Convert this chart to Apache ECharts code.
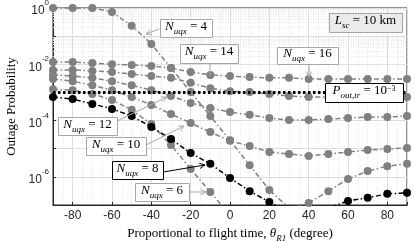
<!DOCTYPE html>
<html><head><meta charset="utf-8">
<script src="https://cdn.jsdelivr.net/npm/echarts@6/dist/echarts.min.js"></script>
<style>html,body{margin:0;padding:0;background:#fff}#c{width:415px;height:242px}</style>
</head><body><div id="c"></div>
<script>
const angles=[-90,-80,-70,-60,-50,-40,-30,-20,-10,0,10,20,30,40,50,60,70,80,90];
const pN4=[1,1,1,0.72,0.235,5.3e-2,7.4e-3,1.03e-3,1.45e-4,2.0e-5,2.6e-6,3.4e-7,7.8e-8,1.18e-7,3.1e-7,8.4e-7,1.6e-6,2.4e-6,2.9e-6];
const pN6=[1.3e-3,1.2e-3,8.8e-4,5.4e-4,2.4e-4,7.5e-5,1.35e-5,1.9e-6,2.9e-7,4.4e-8,null,null,null,null,null,null,null,null,null];
const pN8=[6.9e-4,5.8e-4,3.9e-4,2.6e-4,1.45e-4,5.9e-5,2.2e-5,7.0e-6,2.9e-6,9.1e-7,3.1e-7,1.28e-7,5.6e-8,4e-8,7.8e-8,1.4e-7,1.8e-7,2.5e-7,2.7e-7];
const pN10=[3.0e-3,2.5e-3,1.8e-3,1.2e-3,6.9e-4,3.6e-4,1.7e-4,8.2e-5,3.9e-5,1.9e-5,1.25e-5,7.6e-6,6.5e-6,5.5e-6,6.5e-6,7.6e-6,9.0e-6,9.8e-6,1.06e-5];
const pN12=[4.2e-3,3.8e-3,3.3e-3,2.5e-3,1.8e-3,1.2e-3,7.5e-4,4.2e-4,2.8e-4,2.0e-4,1.6e-4,1.23e-4,1.05e-4,1.05e-4,1.14e-4,1.23e-4,1.34e-4,1.34e-4,1.45e-4];
const pN14=[6.3e-3,6.3e-3,5.8e-3,5.3e-3,4.5e-3,3.8e-3,3.3e-3,2.2e-3,1.4e-3,1.1e-3,1.03e-3,8.8e-4,7.5e-4,6.9e-4,6.9e-4,6.9e-4,6.9e-4,6.9e-4,6.9e-4];
const pN16=[1.2e-2,1.2e-2,1.1e-2,1.0e-2,9.4e-3,8.7e-3,7.4e-3,5.3e-3,4.2e-3,3.8e-3,3.5e-3,3.3e-3,3.3e-3,3.0e-3,3.0e-3,3.0e-3,3.0e-3,3.0e-3,3.0e-3];
const thresholdX=[-90,90];
const thresholdP=1e-3;
const seriesNames=['N_uqx = 4','N_uqx = 6','N_uqx = 8','N_uqx = 10','N_uqx = 12','N_uqx = 14','N_uqx = 16'];

const SERIF='"Liberation Serif","DejaVu Serif",serif';
const SANS='"Liberation Sans","DejaVu Sans",sans-serif';
const GREY='#808080';
const dashDot=[5,2.5,1.5,2.5];

function pairs(arr){return angles.map((a,i)=>[a,arr[i]]);}
function lineSeries(name,arr,color,z){
  return {name,type:'line',data:pairs(arr),symbol:'circle',symbolSize:8,
    itemStyle:{color},lineStyle:{color,width:1.5,type:dashDot},z:z||10,
    clip:true,animation:false,connectNulls:false};
}
// minor log grid lines (2..9 per decade)
const minorY=[];
for(let e=-7;e<0;e++){for(let k=2;k<=9;k++){minorY.push({yAxis:k*Math.pow(10,e)});}}

const chart=echarts.init(document.getElementById('c'),null,{renderer:'canvas'});
const option={
  animation:false,
  backgroundColor:'#fff',
  grid:{left:53,right:8,top:8,bottom:37,outerBoundsMode:'none',containLabel:false,
    show:true,borderColor:'#262626',borderWidth:1,backgroundColor:'#fff'},
  xAxis:{type:'value',min:-90,max:90,splitNumber:9,
    axisLine:{show:true,onZero:false,lineStyle:{color:'#262626'}},
    axisTick:{show:true,inside:true,length:3,lineStyle:{color:'#262626'}},
    minorTick:{show:false,splitNumber:4},
    minorSplitLine:{show:true,lineStyle:{color:'#e4e4e4',type:[1,1.5],width:1}},
    splitLine:{show:true,lineStyle:{color:'#dcdcdc',width:1}},
    axisLabel:{fontFamily:SANS,fontSize:12,color:'#262626',margin:5,
      formatter:v=>(v===-90||v===90)?'':String(v)},
    name:'{t|Proportional to flight time, }{i|θ}{s|R1}{t| (degree)}',
    nameLocation:'middle',nameGap:19,
    nameTextStyle:{rich:{
      t:{fontFamily:SERIF,fontSize:13,color:'#000',lineHeight:16,verticalAlign:'top'},
      i:{fontFamily:SERIF,fontSize:13,fontStyle:'italic',color:'#000',lineHeight:16,verticalAlign:'top'},
      s:{fontFamily:SERIF,fontSize:9,fontStyle:'italic',color:'#000',lineHeight:9,verticalAlign:'bottom'}}}
  },
  yAxis:{type:'log',logBase:10,min:1e-7,max:1,splitNumber:7,
    axisLine:{show:true,onZero:false,lineStyle:{color:'#262626'}},
    axisTick:{show:true,inside:true,length:3,lineStyle:{color:'#262626'}},
    splitLine:{show:true,lineStyle:{color:'#dcdcdc',width:1}},
    axisLabel:{margin:4,formatter:v=>{const e=Math.round(Math.log10(v));return (e%2===0)?'{b|10}{s|'+(e===0?'0':e)+'}':'';},
      rich:{b:{fontFamily:SANS,fontSize:12,color:'#262626',lineHeight:18,verticalAlign:'bottom'},
            s:{fontFamily:SANS,fontSize:8,color:'#262626',lineHeight:10,verticalAlign:'top'}}},
    name:'Outage Probability',nameLocation:'middle',nameGap:34,
    nameTextStyle:{fontFamily:SERIF,fontSize:13,color:'#000'}
  },
  series:[
    {type:'line',data:[],silent:true,z:1,markLine:{silent:true,z:1,symbol:'none',label:{show:false},animation:false,
      lineStyle:{color:'#e4e4e4',type:[1,1.5],width:1},data:minorY}},
    lineSeries(seriesNames[0],pN4,GREY,10),
    lineSeries(seriesNames[1],pN6,GREY,10),
    lineSeries(seriesNames[3],pN10,GREY,10),
    lineSeries(seriesNames[4],pN12,GREY,10),
    lineSeries(seriesNames[5],pN14,GREY,10),
    lineSeries(seriesNames[6],pN16,GREY,10),
    lineSeries(seriesNames[2],pN8,'#000',11),
    {name:'threshold',type:'line',data:thresholdX.map(x=>[x,thresholdP]),symbol:'none',z:12,
      lineStyle:{color:'#000',width:3,type:[2.5,2.5]}}
  ]
};
chart.setOption(option);

// annotation boxes
const richN={
  n:{fontFamily:SERIF,fontSize:13,fontStyle:'italic',color:'#000',lineHeight:16,verticalAlign:'top'},
  s:{fontFamily:SERIF,fontSize:9,fontStyle:'italic',color:'#000',lineHeight:9,verticalAlign:'bottom'},
  p:{fontFamily:SERIF,fontSize:8,color:'#000',lineHeight:9,verticalAlign:'top'},
  t:{fontFamily:SERIF,fontSize:13,color:'#000',lineHeight:16,verticalAlign:'top'}
};
function box(x1,y1,x2,y2,text,border,fill){
  return [
    {type:'rect',shape:{x:x1+0.5,y:y1+0.5,width:x2-x1,height:y2-y1},style:{fill:fill||'#fff',stroke:border,lineWidth:1},z:100},
    {type:'text',x:(x1+x2)/2,y:(y1+y2)/2,style:{text:text,rich:richN,align:'center',verticalAlign:'middle'},z:101}
  ];
}
function arrow(x1,y1,x2,y2,color,head){
  const els=[{type:'line',shape:{x1,y1,x2,y2},style:{stroke:color,lineWidth:1},z:100}];
  if(head!==false){
    const a=Math.atan2(y2-y1,x2-x1),L=6,w=0.45;
    els.push({type:'polyline',shape:{points:[[x2-L*Math.cos(a-w),y2-L*Math.sin(a-w)],[x2,y2],[x2-L*Math.cos(a+w),y2-L*Math.sin(a+w)]]},
      style:{stroke:color,lineWidth:1,fill:null},z:100});
  }
  return els;
}
const lbl=n=>'{n|N}{s|uqx}{t| = '+n+'}';
const BG='#a6a6a6';
let g=[];
g=g.concat(arrow(159,29,146,34,BG));
g=g.concat(box(160,19,212,37,lbl(4),BG));
g=g.concat(arrow(210,63,210,76,BG,false));
g=g.concat(box(180,44,238,63,lbl(14),BG));
g=g.concat(arrow(309,64,309,77,BG));
g=g.concat(box(277,47,338,64,lbl(16),BG));
g=g.concat(box(329,13,402,32,'{n|L}{s|sc}{t| = 10 km}',BG,'#ebebeb'));
g=g.concat(box(325,83,403,102,'{n|P}{s|out,tr}{t| = 10}{p|−3}','#000','#fff'));
g=g.concat(arrow(117,121,167,97,BG));
g=g.concat(box(58,117,117,135,lbl(12),BG));
g=g.concat(arrow(146,145,184,126,BG));
g=g.concat(box(86,137,146,155,lbl(10),BG));
g=g.concat(arrow(163,172,205,165,'#000'));
g=g.concat(box(112,161,163,179,lbl(8),'#000'));
g=g.concat(arrow(189,192,206,192,BG));
g=g.concat(box(135,183,189,201,lbl(6),BG));
chart.setOption({graphic:{elements:g}});
</script></body></html>
